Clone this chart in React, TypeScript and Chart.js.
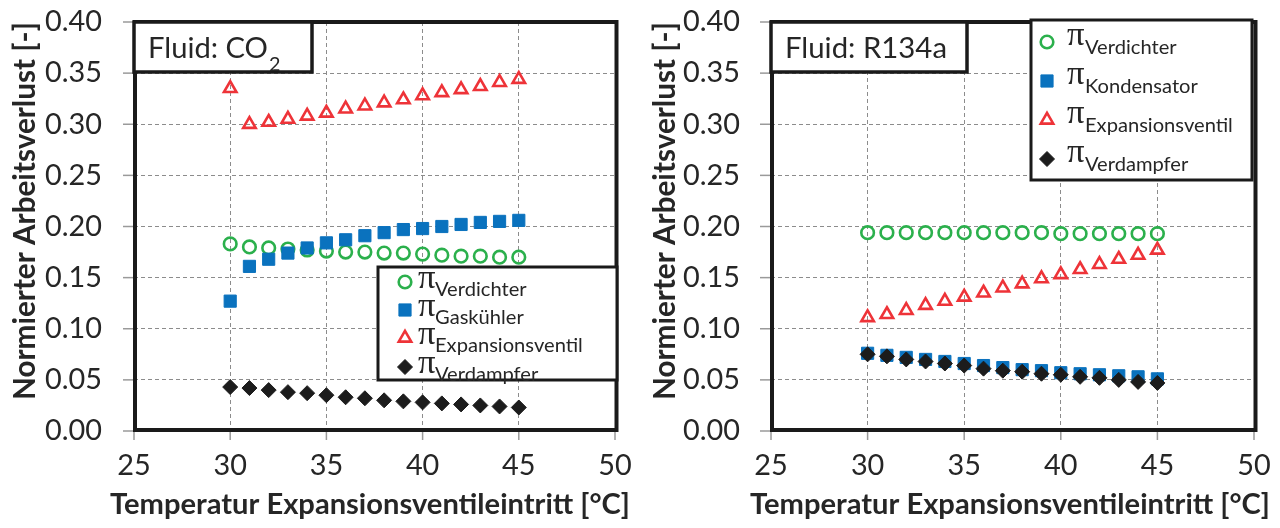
import React, { useEffect, useRef } from "react";
import { Chart, registerables } from "chart.js";

Chart.register(...registerables);

// ---------- data ----------
const temperatures = [30, 31, 32, 33, 34, 35, 36, 37, 38, 39, 40, 41, 42, 43, 44, 45];

const co2Verdichter = [0.183, 0.180, 0.179, 0.178, 0.177, 0.176, 0.175, 0.175, 0.174, 0.174, 0.173, 0.172, 0.171, 0.171, 0.170, 0.170];
const co2Gaskuehler = [0.127, 0.161, 0.168, 0.174, 0.179, 0.184, 0.187, 0.191, 0.194, 0.197, 0.198, 0.200, 0.202, 0.204, 0.205, 0.206];
const co2Expansionsventil = [0.335, 0.300, 0.302, 0.305, 0.308, 0.311, 0.315, 0.318, 0.321, 0.324, 0.328, 0.331, 0.334, 0.337, 0.341, 0.344];
const co2Verdampfer = [0.043, 0.042, 0.040, 0.038, 0.037, 0.035, 0.033, 0.032, 0.030, 0.029, 0.028, 0.027, 0.026, 0.025, 0.024, 0.023];

const r134aVerdichter = [0.194, 0.194, 0.194, 0.194, 0.194, 0.194, 0.194, 0.194, 0.194, 0.194, 0.193, 0.193, 0.193, 0.193, 0.193, 0.193];
const r134aKondensator = [0.076, 0.074, 0.072, 0.070, 0.068, 0.066, 0.064, 0.062, 0.060, 0.059, 0.057, 0.056, 0.055, 0.054, 0.053, 0.051];
const r134aExpansionsventil = [0.111, 0.114, 0.118, 0.123, 0.127, 0.131, 0.135, 0.140, 0.144, 0.149, 0.153, 0.158, 0.163, 0.168, 0.172, 0.177];
const r134aVerdampfer = [0.075, 0.073, 0.070, 0.068, 0.066, 0.064, 0.061, 0.059, 0.058, 0.056, 0.055, 0.053, 0.052, 0.050, 0.048, 0.047];

const co2Labels = ["Verdichter", "Gaskühler", "Expansionsventil", "Verdampfer"];
const r134aLabels = ["Verdichter", "Kondensator", "Expansionsventil", "Verdampfer"];

const xTicks = [25, 30, 35, 40, 45, 50];
const yTicks = [0, 0.05, 0.1, 0.15, 0.2, 0.25, 0.3, 0.35, 0.4];

const xTitle = "Temperatur Expansionsventileintritt [°C]";
const yTitle = "Normierter Arbeitsverlust [-]";
const piSymbol = "π";

// ---------- styles ----------
const GREEN = "#2BB04C";
const BLUE = "#0A72BE";
const RED = "#EE3338";
const BLACK = "#1C1C1C";
const TEXT = "#262626";
const GRID = "#8C8C8C";

type Marker = { kind: "circle" | "rect" | "triangle" | "rectRot"; r: number; fill: string; stroke: string; lw: number };
const markers: Marker[] = [
  { kind: "circle", r: 6.3, fill: "rgba(0,0,0,0)", stroke: GREEN, lw: 2.6 },
  { kind: "rect", r: 8.6, fill: BLUE, stroke: BLUE, lw: 1 },
  { kind: "triangle", r: 7.2, fill: "rgba(0,0,0,0)", stroke: RED, lw: 2.6 },
  { kind: "rectRot", r: 7.5, fill: BLACK, stroke: BLACK, lw: 1 },
];

type PanelCfg = {
  fluidMain: string;
  fluidSub: string;
  fluidBoxW: number;
  fluidTextW: number;
  series: number[][];
  labels: string[];
  chartLeft: number;
  rightPad: number;
  yLabelPad: number;
  legend: { x: number; y: number; w: number; h: number; markerX: number; rows: number[]; piX: number; subX: number; piDy: number; subDy: number };
};

const co2Cfg: PanelCfg = {
  fluidMain: "Fluid: CO",
  fluidSub: "2",
  fluidBoxW: 178,
  fluidTextW: 120,
  series: [co2Verdichter, co2Gaskuehler, co2Expansionsventil, co2Verdampfer],
  labels: co2Labels,
  chartLeft: 134,
  rightPad: 25,
  yLabelPad: 32,
  legend: { x: 378, y: 267, w: 239, h: 113, markerX: 405, rows: [282, 310, 338, 367], piX: 418, subX: 435, piDy: 6, subDy: 14 },
};

const r134aCfg: PanelCfg = {
  fluidMain: "Fluid: R134a",
  fluidSub: "",
  fluidBoxW: 196,
  fluidTextW: 162,
  series: [r134aVerdichter, r134aKondensator, r134aExpansionsventil, r134aVerdampfer],
  labels: r134aLabels,
  chartLeft: 131,
  rightPad: 26,
  yLabelPad: 31,
  legend: { x: 391, y: 20, w: 221, h: 160, markerX: 407, rows: [42, 81, 120, 159], piX: 427, subX: 445, piDy: 3, subDy: 12 },
};

const measureCtx = (): CanvasRenderingContext2D => document.createElement("canvas").getContext("2d")!;
function fitSize(ctx: CanvasRenderingContext2D, text: string, weight: string, family: string, target: number) {
  ctx.font = `${weight} 100px ${family}`;
  return (100 * target) / ctx.measureText(text).width;
}

function drawMarker(ctx: CanvasRenderingContext2D, m: Marker, x: number, y: number) {
  ctx.save();
  ctx.beginPath();
  if (m.kind === "circle") {
    ctx.arc(x, y, m.r, 0, Math.PI * 2);
  } else if (m.kind === "rect") {
    const s = m.r * Math.SQRT1_2;
    ctx.rect(x - s, y - s, 2 * s, 2 * s);
  } else if (m.kind === "triangle") {
    ctx.moveTo(x, y - m.r);
    ctx.lineTo(x + Math.sin((2 * Math.PI) / 3) * m.r, y + m.r / 2);
    ctx.lineTo(x - Math.sin((2 * Math.PI) / 3) * m.r, y + m.r / 2);
    ctx.closePath();
  } else {
    ctx.moveTo(x, y - m.r);
    ctx.lineTo(x + m.r, y);
    ctx.lineTo(x, y + m.r);
    ctx.lineTo(x - m.r, y);
    ctx.closePath();
  }
  ctx.fillStyle = m.fill;
  ctx.fill();
  ctx.lineWidth = m.lw;
  ctx.strokeStyle = m.stroke;
  ctx.stroke();
  ctx.restore();
}

function makeDecor(cfg: PanelCfg) {
  return {
    id: "decor",
    afterDraw(chart: any) {
      const { ctx, chartArea: a, scales } = chart;
      const xs = scales.x;
      const ys = scales.y;
      ctx.save();
      // tick marks
      ctx.strokeStyle = "#9A9A9A";
      ctx.lineWidth = 1.5;
      ctx.setLineDash([]);
      yTicks.forEach((v) => {
        const py = ys.getPixelForValue(v);
        ctx.beginPath();
        ctx.moveTo(a.left - 11, py);
        ctx.lineTo(a.left, py);
        ctx.stroke();
      });
      xTicks.forEach((v) => {
        const px = xs.getPixelForValue(v);
        ctx.beginPath();
        ctx.moveTo(px, a.bottom);
        ctx.lineTo(px, a.bottom + 9);
        ctx.stroke();
      });
      // plot frame
      ctx.strokeStyle = "#1A1A1A";
      ctx.lineWidth = 4;
      ctx.strokeRect(a.left + 1, a.top, a.right - a.left + 0.5, a.bottom - a.top - 1);

      // fluid box
      ctx.fillStyle = "#FFFFFF";
      ctx.fillRect(a.left, a.top, cfg.fluidBoxW, 50);
      ctx.lineWidth = 3.5;
      ctx.strokeRect(a.left, a.top, cfg.fluidBoxW, 50);
      const fSize = fitSize(ctx, cfg.fluidMain, "normal", "Lato", cfg.fluidTextW);
      ctx.font = `normal ${fSize}px Lato`;
      ctx.fillStyle = TEXT;
      ctx.textAlign = "left";
      ctx.textBaseline = "alphabetic";
      ctx.fillText(cfg.fluidMain, a.left + 14, a.top + 36);
      if (cfg.fluidSub) {
        const w = ctx.measureText(cfg.fluidMain).width;
        ctx.font = `normal ${fSize * 0.68}px Lato`;
        ctx.fillText(cfg.fluidSub, a.left + 14 + w + 1, a.top + 49);
      }

      // legend
      const L = cfg.legend;
      ctx.fillStyle = "#FFFFFF";
      ctx.fillRect(L.x, L.y, L.w, L.h);
      ctx.strokeStyle = "#1A1A1A";
      ctx.lineWidth = 3;
      ctx.strokeRect(L.x, L.y, L.w, L.h);
      const piFamily = "'Liberation Serif'";
      const piSize = fitSize(ctx, piSymbol, "normal", piFamily, 17.5);
      const subSize = fitSize(ctx, "Expansionsventil", "normal", "Lato", 148);
      cfg.labels.forEach((lab, i) => {
        const ry = L.rows[i];
        drawMarker(ctx, markers[i], L.markerX, ry);
        ctx.fillStyle = TEXT;
        ctx.textAlign = "left";
        ctx.textBaseline = "alphabetic";
        ctx.font = `normal ${piSize}px ${piFamily}`;
        ctx.fillText(piSymbol, L.piX, ry + L.piDy);
        ctx.font = `normal ${subSize}px Lato`;
        ctx.fillText(lab, L.subX, ry + L.subDy);
      });

      // axis titles
      const ySize = fitSize(ctx, yTitle, "bold", "Lato", 378);
      ctx.font = `bold ${ySize}px Lato`;
      ctx.fillStyle = TEXT;
      ctx.textAlign = "center";
      ctx.textBaseline = "middle";
      ctx.save();
      ctx.translate(25, 211);
      ctx.rotate(-Math.PI / 2);
      ctx.fillText(yTitle, 0, 0);
      ctx.restore();

      const xSize = fitSize(ctx, xTitle, "bold", "Lato", 520);
      ctx.font = `bold ${xSize}px Lato`;
      ctx.fillText(xTitle, 370, 505);
      ctx.restore();
    },
  };
}

function Panel({ cfg, left }: { cfg: PanelCfg; left: number }) {
  const ref = useRef<HTMLCanvasElement>(null);
  useEffect(() => {
    const canvas = ref.current!;
    const mctx = measureCtx();
    const tickSize = fitSize(mctx, "0.40", "normal", "Lato", 57);
    const chart = new Chart(canvas, {
      type: "scatter",
      data: {
        datasets: cfg.series.map((vals, i) => ({
          label: cfg.labels[i],
          data: temperatures.map((t, k) => ({ x: t, y: vals[k] })),
          pointStyle: markers[i].kind,
          pointRadius: markers[i].r,
          pointBackgroundColor: markers[i].fill,
          pointBorderColor: markers[i].stroke,
          pointBorderWidth: markers[i].lw,
          showLine: false,
          order: 4 - i,
        })),
      },
      options: {
        responsive: false,
        animation: false,
        devicePixelRatio: 1,
        events: [],
        layout: { padding: { top: 22, right: cfg.rightPad, left: 0, bottom: 0 } },
        plugins: { legend: { display: false }, tooltip: { enabled: false }, title: { display: false } },
        scales: {
          x: {
            type: "linear",
            min: 25,
            max: 50,
            afterBuildTicks: (s: any) => {
              s.ticks = xTicks.map((v) => ({ value: v }));
            },
            afterFit: (s: any) => {
              s.height = 97;
              s.paddingLeft = 0;
              s.paddingRight = 0;
            },
            ticks: {
              font: { family: "Lato", size: tickSize },
              color: TEXT,
              padding: 17,
              maxRotation: 0,
              autoSkip: false,
            },
            grid: { color: GRID, lineWidth: 1, drawTicks: false },
            border: { display: false, dash: [4, 3] },
          },
          y: {
            type: "linear",
            min: 0,
            max: 0.4,
            afterBuildTicks: (s: any) => {
              s.ticks = yTicks.map((v) => ({ value: v }));
            },
            afterFit: (s: any) => {
              s.width = cfg.chartLeft;
              s.paddingTop = 0;
              s.paddingBottom = 0;
            },
            ticks: {
              font: { family: "Lato", size: tickSize },
              color: TEXT,
              padding: cfg.yLabelPad,
              autoSkip: false,
              callback: (v: any) => Number(v).toFixed(2),
            },
            grid: { color: GRID, lineWidth: 1, drawTicks: false },
            border: { display: false, dash: [4, 3] },
          },
        },
      },
      plugins: [makeDecor(cfg)],
    } as any);
    return () => chart.destroy();
  }, []);
  return (
    <canvas
      ref={ref}
      width={640}
      height={528}
      style={{ position: "absolute", left, top: 0, width: 640, height: 528 }}
    />
  );
}

export default function App() {
  return (
    <div style={{ position: "fixed", left: 0, top: 0, width: 1280, height: 528, background: "#FFFFFF", overflow: "hidden" }}>
      <Panel cfg={co2Cfg} left={0} />
      <Panel cfg={r134aCfg} left={640} />
    </div>
  );
}
